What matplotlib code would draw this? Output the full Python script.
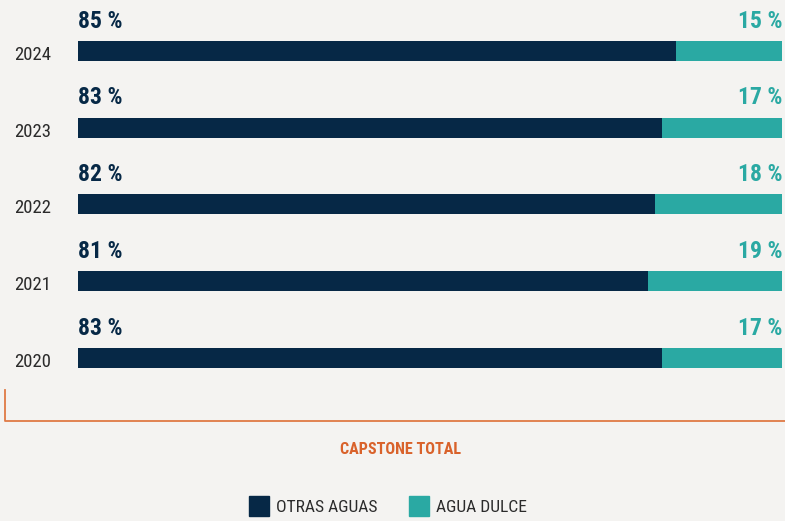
import matplotlib
matplotlib.use("Agg")
import matplotlib.pyplot as plt
from matplotlib.lines import Line2D
from matplotlib.patches import Rectangle

plt.rcParams['font.family'] = ['Roboto Condensed', 'DejaVu Sans']

years = ['2020', '2021', '2022', '2023', '2024']
otras_aguas = [83, 81, 82, 83, 85]
agua_dulce = [17, 19, 18, 17, 15]
series_names = ['OTRAS AGUAS', 'AGUA DULCE']
title = 'CAPSTONE TOTAL'

NAVY = '#062846'
TEAL = '#2aa9a3'
ORANGE = '#e07a45'
BG = '#f4f3f1'
TEXT = '#2b2b2b'

W, H = 785, 521
fig = plt.figure(figsize=(W / 100, H / 100), dpi=100)
fig.patch.set_facecolor(BG)

# bars span pixels 78..782 horizontally; the axes covers the full height
ax = fig.add_axes([78 / W, 0, 704 / W, 1])
ax.set_facecolor('none')
ax.set_xlim(0, 100)
ax.set_ylim(-2.124, 4.664)
ax.axis('off')

ypos = list(range(len(years)))
bar_h = 0.26
ax.barh(ypos, otras_aguas, height=bar_h, color=NAVY)
ax.barh(ypos, agua_dulce, left=otras_aguas, height=bar_h, color=TEAL)

for y, yr, a, b in zip(ypos, years, otras_aguas, agua_dulce):
    ax.text(0, y + 0.39, f'{a} %', ha='left', va='center',
            fontsize=17, fontweight='bold', color=NAVY)
    ax.text(a + b, y + 0.39, f'{b} %', ha='right', va='center',
            fontsize=17, fontweight='bold', color=TEAL)
    ax.text(-6.4, y - 0.05, yr, ha='center', va='center',
            fontsize=13.5, color=TEXT, clip_on=False)

# orange bracket under the bars
def px(x, y):
    return x / W, 1 - y / H

x0, y0 = px(5, 390)
x1, y1 = px(5, 421)
x2, _ = px(785, 421)
fig.add_artist(Line2D([x0, x1, x2], [y0, y1, y1], color=ORANGE, lw=1.3))

tx, ty = px(401, 449)
fig.text(tx, ty, title, ha='center', va='center', fontsize=11.6,
         fontweight='bold', color='#d9622b')

# legend
for (sx, tx_), name, col in zip([(249, 276), (409, 436)], series_names, [NAVY, TEAL]):
    rx, ry = px(sx, 516)
    fig.add_artist(Rectangle((rx, ry), 20 / W, 20 / H, color=col,
                             transform=fig.transFigure))
    lx, ly = px(tx_, 507)
    fig.text(lx, ly, name, ha='left', va='center', fontsize=12.6, color=TEXT)

fig.savefig('out.png', dpi=100, facecolor=BG)
